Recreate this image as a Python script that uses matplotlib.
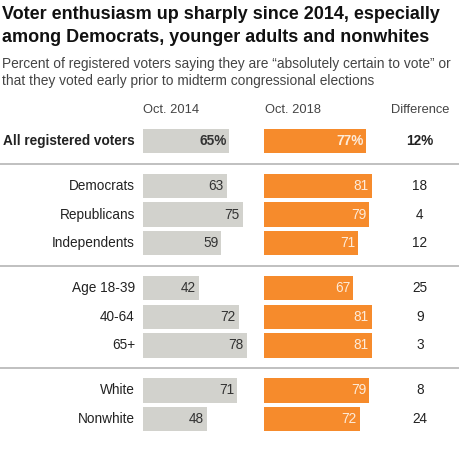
import matplotlib
matplotlib.use("Agg")
import matplotlib.pyplot as plt
from matplotlib.lines import Line2D

plt.rcParams['font.family'] = ['Liberation Sans', 'DejaVu Sans']

# ---- data ----
groups = [
    ["All registered voters"],
    ["Democrats", "Republicans", "Independents"],
    ["Age 18-39", "40-64", "65+"],
    ["White", "Nonwhite"],
]
oct2014 = [65, 63, 75, 59, 42, 72, 78, 71, 48]
oct2018 = [77, 81, 79, 71, 67, 81, 81, 79, 72]
difference = [12, 18, 4, 12, 25, 9, 3, 8, 24]
col_headers = ["Oct. 2014", "Oct. 2018", "Difference"]

title = ("Voter enthusiasm up sharply since 2014, especially\n"
         "among Democrats, younger adults and nonwhites")
subtitle = ("Percent of registered voters saying they are \u201cabsolutely certain to vote\u201d or\n"
            "that they voted early prior to midterm congressional elections")

GRAY = "#d2d2cd"
ORANGE = "#f68b2c"
W, H = 460, 450

fig = plt.figure(figsize=(W / 100, H / 100), dpi=100)
fig.patch.set_facecolor("white")

# row positions (pixel units from top)
y_first, step, gap = 141, 28.6, 16.4
ys, labels, bold = [], [], []
y = y_first
for gi, g in enumerate(groups):
    for li, lab in enumerate(g):
        ys.append(y)
        labels.append(lab)
        bold.append(gi == 0)
        y += step
    y += gap
bar_h = 24.5

ax1 = fig.add_axes([143 / W, 0, 133 / W, 1])
ax2 = fig.add_axes([264 / W, 0, 133 / W, 1])
for ax in (ax1, ax2):
    ax.set_xlim(0, 100)
    ax.set_ylim(H, 0)
    ax.axis("off")

ax1.barh(ys, oct2014, height=bar_h, color=GRAY, left=0)
ax2.barh(ys, oct2018, height=bar_h, color=ORANGE, left=0)

fs = 9.8
for i, yy in enumerate(ys):
    fw = "bold" if bold[i] else "normal"
    s1 = f"{oct2014[i]}%" if bold[i] else f"{oct2014[i]}"
    s2 = f"{oct2018[i]}%" if bold[i] else f"{oct2018[i]}"
    s3 = f"{difference[i]}%" if bold[i] else f"{difference[i]}"
    ax1.text(oct2014[i] - 2.3, yy, s1, ha="right", va="center", fontsize=fs,
             color="#333333", fontweight=fw)
    ax2.text(oct2018[i] - 2.3, yy, s2, ha="right", va="center", fontsize=fs,
             color="#fdebd9", fontweight=fw)
    fig.text(420 / W, 1 - yy / H, s3, ha="center", va="center", fontsize=fs,
             color="#222222", fontweight=fw)
    fig.text(135 / W, 1 - yy / H, labels[i], ha="right", va="center",
             fontsize=fs, color="#222222", fontweight=fw)

# separators between groups
idx = 0
for gi, g in enumerate(groups[:-1]):
    idx += len(g)
    ysep = (ys[idx - 1] + ys[idx]) / 2
    fig.add_artist(Line2D([0, 1], [1 - ysep / H] * 2, color="#b5b5b5", lw=1.2))

# column headers
hy = 1 - 110 / H
fig.text(143 / W, hy, col_headers[0], ha="left", va="center", fontsize=9.3, color="#444444")
fig.text(265 / W, hy, col_headers[1], ha="left", va="center", fontsize=9.3, color="#444444")
fig.text(420 / W, hy, col_headers[2], ha="center", va="center", fontsize=9.3, color="#444444")

fig.text(2 / W, 1 - 6 / H, title, ha="left", va="top", fontsize=13.0,
         fontweight="bold", color="#111111", linespacing=1.45)
fig.text(2 / W, 1 - 57 / H, subtitle, ha="left", va="top", fontsize=9.9,
         color="#444444", linespacing=1.3)

fig.savefig("out.png", dpi=100, facecolor="white")
